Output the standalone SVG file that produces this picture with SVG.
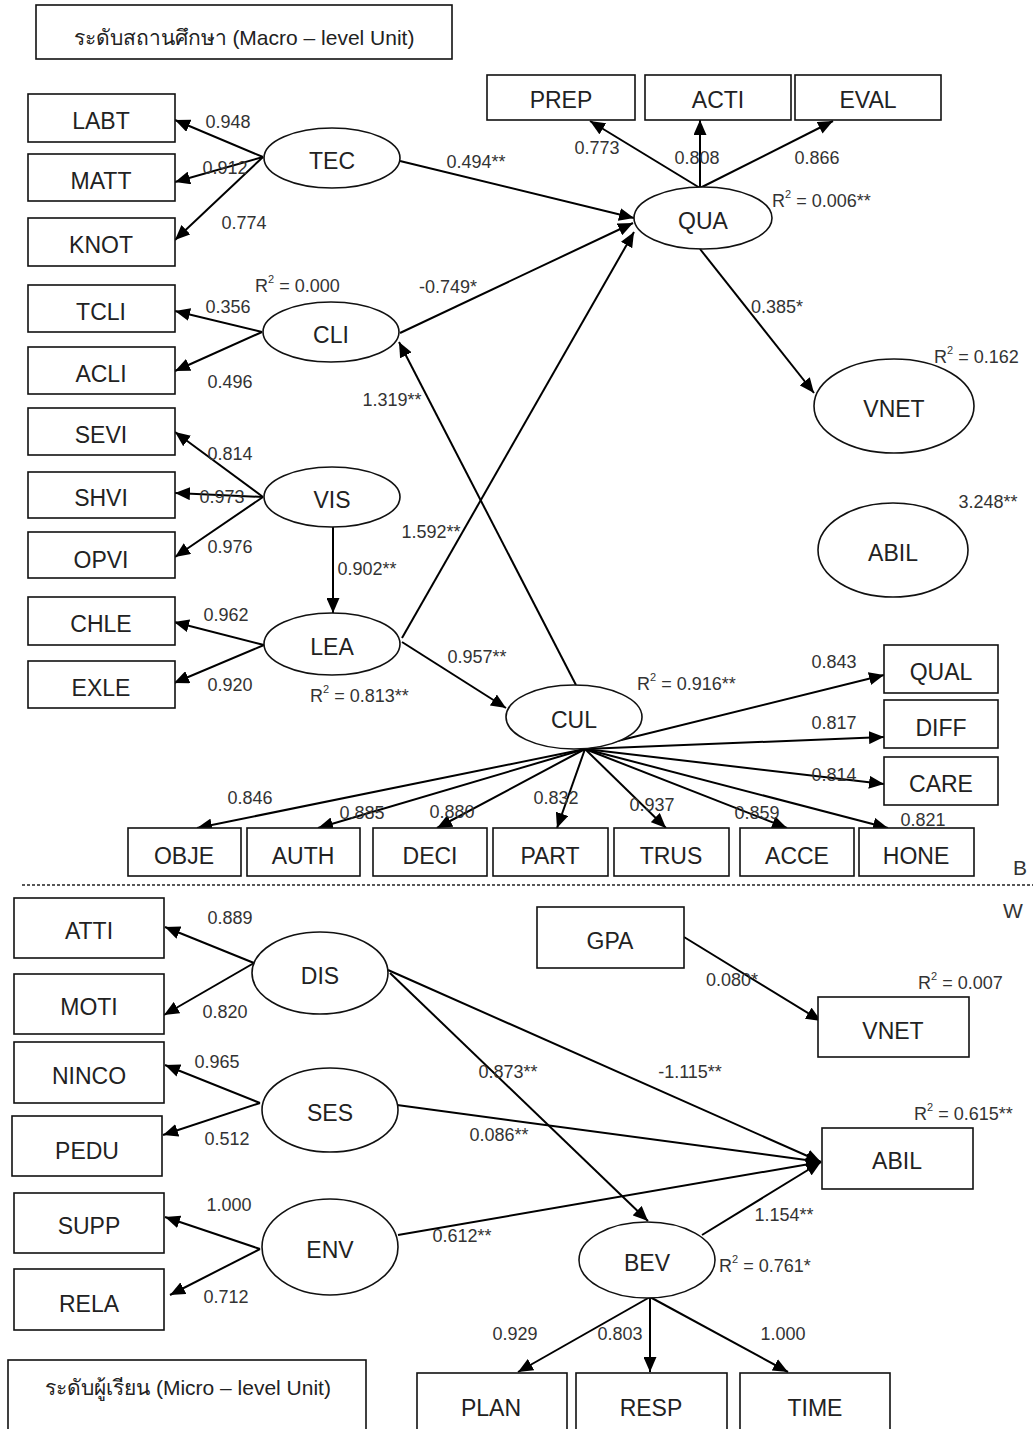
<svg xmlns="http://www.w3.org/2000/svg" width="1033" height="1429" viewBox="0 0 1033 1429">
<defs>
<marker id="ah" markerUnits="userSpaceOnUse" markerWidth="15" markerHeight="13" refX="15" refY="6.5" orient="auto">
<path d="M0,0 L15,6.5 L0,13 z" fill="#000"/>
</marker>
<style>
.box{fill:#fff;stroke:#111;stroke-width:1.6}
.ell{fill:#fff;stroke:#111;stroke-width:1.6}
.nt{font-family:"Liberation Sans","Noto Sans",sans-serif;font-size:23px;fill:#222;text-anchor:middle}
.lb{font-family:"Liberation Sans","Noto Sans",sans-serif;font-size:18px;fill:#333}
.lc{text-anchor:middle}
.sup{font-size:11px}
.title{font-family:"Liberation Sans","Noto Sans",sans-serif;font-size:21px;fill:#222;text-anchor:middle}
#connectors line{stroke:#000;stroke-width:2;marker-end:url(#ah)}
</style>
</defs>
<rect width="1033" height="1429" fill="#fff"/>

<g id="title-macro"><rect class="box" x="36" y="5" width="416" height="54"/><text class="title" x="244" y="45">ระดับสถานศึกษา (Macro – level Unit)</text></g>
<g id="title-micro"><rect class="box" x="8" y="1360" width="358" height="90"/><text class="title" x="188" y="1395">ระดับผู้เรียน (Micro – level Unit)</text></g>

<line x1="22" y1="885" x2="1033" y2="885" stroke="#222" stroke-width="1.6" stroke-dasharray="3,2"/>
<text class="lb" x="1013" y="875" style="font-size:21px">B</text>
<text class="lb" x="1003" y="918" style="font-size:21px">W</text>

<g id="connectors">
<line x1="263" y1="157" x2="175" y2="120"/>
<line x1="263" y1="157" x2="175" y2="182"/>
<line x1="263" y1="157" x2="175" y2="240"/>
<line x1="262" y1="332" x2="175" y2="311"/>
<line x1="262" y1="332" x2="175" y2="371"/>
<line x1="263" y1="497" x2="175" y2="432"/>
<line x1="263" y1="497" x2="175" y2="493"/>
<line x1="263" y1="497" x2="175" y2="557"/>
<line x1="264" y1="645" x2="174" y2="622"/>
<line x1="264" y1="645" x2="174" y2="683"/>
<line x1="333" y1="527" x2="333" y2="613"/>
<line x1="400" y1="161" x2="634" y2="218"/>
<line x1="400" y1="333" x2="633" y2="223"/>
<line x1="402" y1="638" x2="634" y2="232"/>
<line x1="576" y1="685" x2="399" y2="342"/>
<line x1="402" y1="642" x2="506" y2="708"/>
<line x1="700" y1="188" x2="590" y2="121"/>
<line x1="700" y1="188" x2="700" y2="120"/>
<line x1="700" y1="188" x2="833" y2="121"/>
<line x1="700" y1="249" x2="814" y2="393"/>
<line x1="585" y1="749" x2="884" y2="675"/>
<line x1="585" y1="749" x2="884" y2="737"/>
<line x1="585" y1="749" x2="884" y2="784"/>
<line x1="585" y1="749" x2="197" y2="828"/>
<line x1="585" y1="749" x2="318" y2="828"/>
<line x1="585" y1="749" x2="437" y2="828"/>
<line x1="585" y1="749" x2="557" y2="828"/>
<line x1="585" y1="749" x2="666" y2="828"/>
<line x1="585" y1="749" x2="787" y2="828"/>
<line x1="585" y1="749" x2="888" y2="828"/>

<line x1="254" y1="963" x2="165" y2="927"/>
<line x1="254" y1="963" x2="164" y2="1015"/>
<line x1="260" y1="1103" x2="165" y2="1065"/>
<line x1="260" y1="1103" x2="163" y2="1135"/>
<line x1="260" y1="1249" x2="165" y2="1217"/>
<line x1="260" y1="1249" x2="170" y2="1295"/>
<line x1="388" y1="970" x2="821" y2="1162"/>
<line x1="390" y1="973" x2="648" y2="1221"/>
<line x1="397" y1="1105" x2="821" y2="1162"/>
<line x1="398" y1="1235" x2="821" y2="1162"/>
<line x1="702" y1="1235" x2="821" y2="1162"/>
<line x1="684" y1="937" x2="821" y2="1021"/>
<line x1="650" y1="1297" x2="518" y2="1372"/>
<line x1="650" y1="1297" x2="650" y2="1372"/>
<line x1="650" y1="1297" x2="788" y2="1372"/>
</g>

<g id="LABT"><rect class="box" x="28" y="94" width="147" height="48"/><text class="nt" x="101" y="129">LABT</text></g>
<g id="MATT"><rect class="box" x="28" y="154" width="147" height="47"/><text class="nt" x="101" y="189">MATT</text></g>
<g id="KNOT"><rect class="box" x="28" y="218" width="147" height="48"/><text class="nt" x="101" y="253">KNOT</text></g>
<g id="TCLI"><rect class="box" x="28" y="285" width="147" height="47"/><text class="nt" x="101" y="320">TCLI</text></g>
<g id="ACLI"><rect class="box" x="28" y="347" width="147" height="47"/><text class="nt" x="101" y="382">ACLI</text></g>
<g id="SEVI"><rect class="box" x="28" y="408" width="147" height="47"/><text class="nt" x="101" y="443">SEVI</text></g>
<g id="SHVI"><rect class="box" x="28" y="472" width="147" height="46"/><text class="nt" x="101" y="506">SHVI</text></g>
<g id="OPVI"><rect class="box" x="28" y="532" width="147" height="46"/><text class="nt" x="101" y="568">OPVI</text></g>
<g id="CHLE"><rect class="box" x="28" y="597" width="147" height="48"/><text class="nt" x="101" y="632">CHLE</text></g>
<g id="EXLE"><rect class="box" x="28" y="661" width="147" height="47"/><text class="nt" x="101" y="696">EXLE</text></g>

<g id="PREP"><rect class="box" x="487" y="75" width="148" height="45"/><text class="nt" x="561" y="108">PREP</text></g>
<g id="ACTI"><rect class="box" x="645" y="75" width="146" height="45"/><text class="nt" x="718" y="108">ACTI</text></g>
<g id="EVAL"><rect class="box" x="795" y="75" width="146" height="45"/><text class="nt" x="868" y="108">EVAL</text></g>

<g id="QUAL"><rect class="box" x="884" y="645" width="114" height="48"/><text class="nt" x="941" y="680">QUAL</text></g>
<g id="DIFF"><rect class="box" x="884" y="700" width="114" height="48"/><text class="nt" x="941" y="736">DIFF</text></g>
<g id="CARE"><rect class="box" x="884" y="757" width="114" height="48"/><text class="nt" x="941" y="792">CARE</text></g>

<g id="OBJE"><rect class="box" x="128" y="828" width="113" height="48"/><text class="nt" x="184" y="864">OBJE</text></g>
<g id="AUTH"><rect class="box" x="247" y="828" width="113" height="48"/><text class="nt" x="303" y="864">AUTH</text></g>
<g id="DECI"><rect class="box" x="373" y="828" width="114" height="48"/><text class="nt" x="430" y="864">DECI</text></g>
<g id="PART"><rect class="box" x="493" y="828" width="115" height="48"/><text class="nt" x="550" y="864">PART</text></g>
<g id="TRUS"><rect class="box" x="614" y="828" width="115" height="48"/><text class="nt" x="671" y="864">TRUS</text></g>
<g id="ACCE"><rect class="box" x="740" y="828" width="114" height="48"/><text class="nt" x="797" y="864">ACCE</text></g>
<g id="HONE"><rect class="box" x="859" y="828" width="115" height="48"/><text class="nt" x="916" y="864">HONE</text></g>

<g id="TEC"><ellipse class="ell" cx="332" cy="158" rx="68" ry="30"/><text class="nt" x="332" y="169">TEC</text></g>
<g id="CLI"><ellipse class="ell" cx="331" cy="332" rx="68" ry="30"/><text class="nt" x="331" y="343">CLI</text></g>
<g id="VIS"><ellipse class="ell" cx="332" cy="497" rx="68" ry="30"/><text class="nt" x="332" y="508">VIS</text></g>
<g id="LEA"><ellipse class="ell" cx="332" cy="644" rx="68" ry="31"/><text class="nt" x="332" y="655">LEA</text></g>
<g id="QUA"><ellipse class="ell" cx="703" cy="218" rx="69" ry="31"/><text class="nt" x="703" y="229">QUA</text></g>
<g id="CUL"><ellipse class="ell" cx="574" cy="717" rx="68" ry="32"/><text class="nt" x="574" y="728">CUL</text></g>
<g id="VNET-b"><ellipse class="ell" cx="894" cy="406" rx="80" ry="47"/><text class="nt" x="894" y="417">VNET</text></g>
<g id="ABIL-b"><ellipse class="ell" cx="893" cy="550" rx="75" ry="47"/><text class="nt" x="893" y="561">ABIL</text></g>

<g id="ATTI"><rect class="box" x="14" y="898" width="150" height="60"/><text class="nt" x="89" y="939">ATTI</text></g>
<g id="MOTI"><rect class="box" x="14" y="974" width="150" height="60"/><text class="nt" x="89" y="1015">MOTI</text></g>
<g id="NINCO"><rect class="box" x="14" y="1042" width="150" height="61"/><text class="nt" x="89" y="1084">NINCO</text></g>
<g id="PEDU"><rect class="box" x="12" y="1116" width="150" height="60"/><text class="nt" x="87" y="1159">PEDU</text></g>
<g id="SUPP"><rect class="box" x="14" y="1193" width="150" height="60"/><text class="nt" x="89" y="1234">SUPP</text></g>
<g id="RELA"><rect class="box" x="14" y="1269" width="150" height="61"/><text class="nt" x="89" y="1312">RELA</text></g>
<g id="GPA"><rect class="box" x="537" y="907" width="147" height="61"/><text class="nt" x="610" y="949">GPA</text></g>
<g id="VNET-w"><rect class="box" x="818" y="997" width="151" height="60"/><text class="nt" x="893" y="1039">VNET</text></g>
<g id="ABIL-w"><rect class="box" x="822" y="1128" width="151" height="61"/><text class="nt" x="897" y="1169">ABIL</text></g>
<g id="PLAN"><rect class="box" x="417" y="1373" width="150" height="80"/><text class="nt" x="491" y="1416">PLAN</text></g>
<g id="RESP"><rect class="box" x="576" y="1373" width="151" height="80"/><text class="nt" x="651" y="1416">RESP</text></g>
<g id="TIME"><rect class="box" x="740" y="1373" width="150" height="80"/><text class="nt" x="815" y="1416">TIME</text></g>

<g id="DIS"><ellipse class="ell" cx="320" cy="973" rx="68" ry="41"/><text class="nt" x="320" y="984">DIS</text></g>
<g id="SES"><ellipse class="ell" cx="330" cy="1110" rx="68" ry="42"/><text class="nt" x="330" y="1121">SES</text></g>
<g id="ENV"><ellipse class="ell" cx="330" cy="1247" rx="68" ry="48"/><text class="nt" x="330" y="1258">ENV</text></g>
<g id="BEV"><ellipse class="ell" cx="647" cy="1260" rx="68" ry="38"/><text class="nt" x="647" y="1271">BEV</text></g>

<g id="labels">
<text class="lb lc" x="228" y="128">0.948</text>
<text class="lb lc" x="225" y="174">0.912</text>
<text class="lb lc" x="244" y="229">0.774</text>
<text class="lb lc" x="228" y="313">0.356</text>
<text class="lb lc" x="230" y="388">0.496</text>
<text class="lb lc" x="230" y="460">0.814</text>
<text class="lb lc" x="222" y="503">0.973</text>
<text class="lb lc" x="230" y="553">0.976</text>
<text class="lb lc" x="226" y="621">0.962</text>
<text class="lb lc" x="230" y="691">0.920</text>
<text class="lb lc" x="367" y="575">0.902**</text>
<text class="lb lc" x="476" y="168">0.494**</text>
<text class="lb lc" x="448" y="293">-0.749*</text>
<text class="lb lc" x="392" y="406">1.319**</text>
<text class="lb lc" x="431" y="538">1.592**</text>
<text class="lb lc" x="477" y="663">0.957**</text>
<text class="lb lc" x="597" y="154">0.773</text>
<text class="lb lc" x="697" y="164">0.808</text>
<text class="lb lc" x="817" y="164">0.866</text>
<text class="lb lc" x="777" y="313">0.385*</text>
<text class="lb lc" x="988" y="508">3.248**</text>
<text class="lb" x="255" y="292">R<tspan class="sup" dy="-9">2</tspan><tspan dy="9"> = 0.000</tspan></text>
<text class="lb" x="772" y="207">R<tspan class="sup" dy="-9">2</tspan><tspan dy="9"> = 0.006**</tspan></text>
<text class="lb" x="934" y="363">R<tspan class="sup" dy="-9">2</tspan><tspan dy="9"> = 0.162</tspan></text>
<text class="lb" x="310" y="702">R<tspan class="sup" dy="-9">2</tspan><tspan dy="9"> = 0.813**</tspan></text>
<text class="lb" x="637" y="690">R<tspan class="sup" dy="-9">2</tspan><tspan dy="9"> = 0.916**</tspan></text>
<text class="lb lc" x="834" y="668">0.843</text>
<text class="lb lc" x="834" y="729">0.817</text>
<text class="lb lc" x="834" y="781">0.814</text>
<text class="lb lc" x="250" y="804">0.846</text>
<text class="lb lc" x="362" y="819">0.885</text>
<text class="lb lc" x="452" y="818">0.880</text>
<text class="lb lc" x="556" y="804">0.832</text>
<text class="lb lc" x="652" y="811">0.937</text>
<text class="lb lc" x="757" y="819">0.859</text>
<text class="lb lc" x="923" y="826">0.821</text>

<text class="lb lc" x="230" y="924">0.889</text>
<text class="lb lc" x="225" y="1018">0.820</text>
<text class="lb lc" x="217" y="1068">0.965</text>
<text class="lb lc" x="227" y="1145">0.512</text>
<text class="lb lc" x="508" y="1078">0.873**</text>
<text class="lb lc" x="690" y="1078">-1.115**</text>
<text class="lb lc" x="499" y="1141">0.086**</text>
<text class="lb lc" x="732" y="986">0.080*</text>
<text class="lb" x="918" y="989">R<tspan class="sup" dy="-9">2</tspan><tspan dy="9"> = 0.007</tspan></text>
<text class="lb" x="914" y="1120">R<tspan class="sup" dy="-9">2</tspan><tspan dy="9"> = 0.615**</tspan></text>
<text class="lb lc" x="229" y="1211">1.000</text>
<text class="lb lc" x="226" y="1303">0.712</text>
<text class="lb lc" x="462" y="1242">0.612**</text>
<text class="lb lc" x="784" y="1221">1.154**</text>
<text class="lb" x="719" y="1272">R<tspan class="sup" dy="-9">2</tspan><tspan dy="9"> = 0.761*</tspan></text>
<text class="lb lc" x="515" y="1340">0.929</text>
<text class="lb lc" x="620" y="1340">0.803</text>
<text class="lb lc" x="783" y="1340">1.000</text>
</g>
</svg>
